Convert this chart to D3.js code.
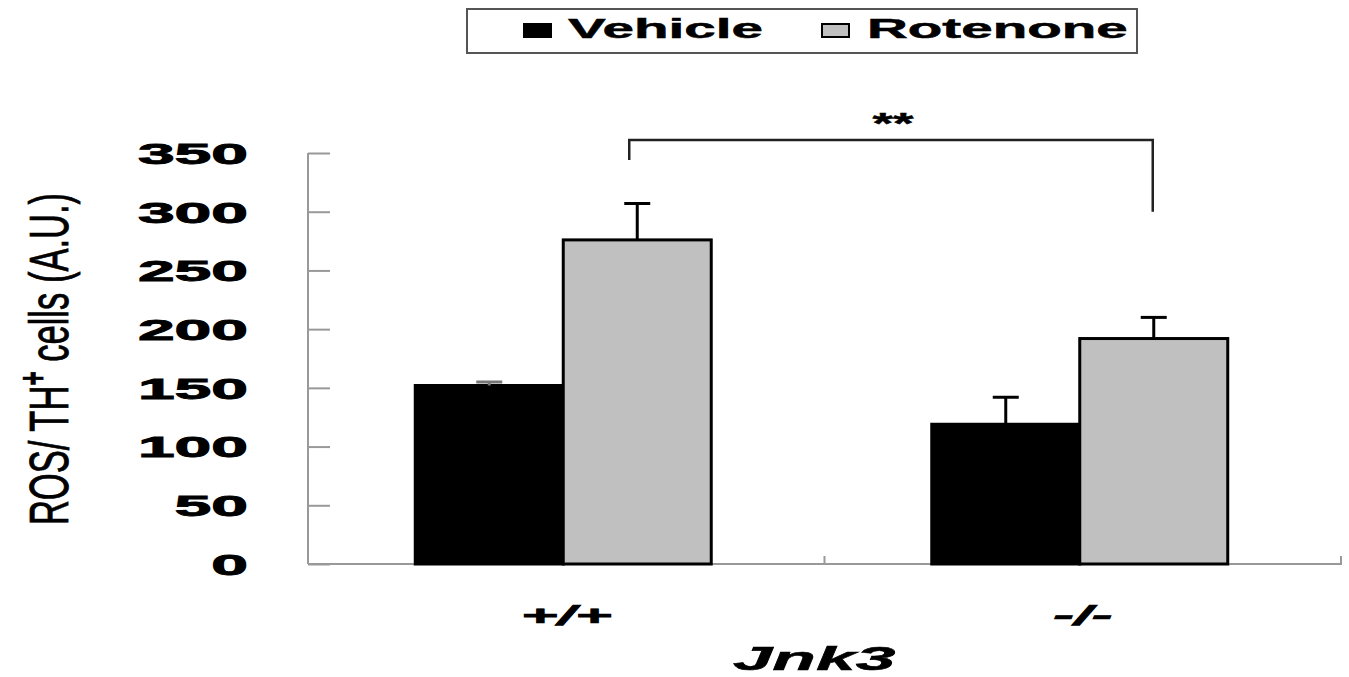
<!DOCTYPE html>
<html>
<head>
<meta charset="utf-8">
<script src="https://cdn.jsdelivr.net/npm/d3@7"></script>
<style>
  html, body { margin: 0; padding: 0; background: #fff; }
  svg { display: block; }
</style>
</head>
<body>
<svg id="chart" width="1349" height="677"></svg>
<script>
// Genotypes on the x axis and treatment series
const genotypes = ["+/+", "-/-"];
const series = ["Vehicle", "Rotenone"];
// Mean ROS / TH+ cells (A.U.) per genotype, one array per series
const vehicleMeans = [152, 119];
const rotenoneMeans = [276, 192];
// Upper error bars (SEM)
const vehicleErrors = [3, 23];
const rotenoneErrors = [31, 18];
// Y axis ticks
const yTicks = [0, 50, 100, 150, 200, 250, 300, 350];
// Significance bracket between Rotenone +/+ and Rotenone -/- (value units)
const bracketLevels = { top: 361, leftEnd: 344, rightEnd: 300, label: 384 };
const bracketText = "**";

const colors = { Vehicle: "#000000", Rotenone: "#c0c0c0" };
const font = "'Liberation Sans', Arial, sans-serif";

const svg = d3.select("#chart");

const x0 = d3.scaleBand().domain(genotypes).range([305, 1338]).paddingInner(0).paddingOuter(0);
const x1 = d3.scaleBand().domain(series).range([0, x0.bandwidth()]).paddingInner(0).paddingOuter(0.745);
const y = d3.scaleLinear().domain([0, 350]).range([564, 153]);

const rows = genotypes.map((g, i) => ({
  genotype: g,
  values: [
    { key: "Vehicle", mean: vehicleMeans[i], err: vehicleErrors[i] },
    { key: "Rotenone", mean: rotenoneMeans[i], err: rotenoneErrors[i] }
  ]
}));

// Axes (ticks drawn inward, grey lines)
const axisColor = "#999";
const axisLeft = 308, axisRight = 1341;
const yAxis = svg.append("g").attr("transform", `translate(${axisLeft},0)`)
  .call(d3.axisRight(y).tickValues(yTicks).tickSize(22).tickFormat(""));
yAxis.select(".domain").attr("stroke", axisColor).attr("stroke-width", 2).attr("d", `M0,${y(350)}V${y(0)}`);
yAxis.selectAll(".tick line").attr("stroke", axisColor).attr("stroke-width", 2);

const xAxis = svg.append("g").attr("transform", `translate(0,${y(0)})`)
  .call(d3.axisTop(x0).tickValues([]).tickSize(0));
xAxis.select(".domain").attr("stroke", axisColor).attr("stroke-width", 2).attr("d", `M${axisLeft},0H${axisRight}`);
// category separator and end tick
const sepXs = [(axisLeft + axisRight) / 2, axisRight];
svg.append("g").selectAll("line").data(sepXs).join("line")
  .attr("x1", d => d).attr("x2", d => d)
  .attr("y1", y(0) - 8).attr("y2", y(0) + 1)
  .attr("stroke", axisColor).attr("stroke-width", 2);

// Y tick labels (heavy, horizontally widened)
svg.append("g").selectAll("text").data(yTicks).join("text")
  .attr("transform", d => `translate(248,${y(d)}) scale(2.2,1)`)
  .attr("dy", "0.36em")
  .attr("text-anchor", "end")
  .attr("font-family", font).attr("font-weight", "bold").attr("font-size", 30)
  .attr("stroke", "#000").attr("stroke-width", 0.9)
  .text(d => d);

// Y axis title
const yTitle = svg.append("text")
  .attr("transform", `translate(68,359) rotate(-90) scale(1.28,2.05)`)
  .attr("text-anchor", "middle")
  .attr("font-family", font).attr("font-size", 27)
  .attr("stroke", "#000").attr("stroke-width", 0.4)
  .attr("fill", "#000");
yTitle.append("tspan").text("ROS/ TH");
yTitle.append("tspan").attr("baseline-shift", "super").attr("font-size", 19).attr("font-weight", "bold").text("+");
yTitle.append("tspan").text(" cells (A.U.)");

// Bars
const groups = svg.append("g").selectAll("g").data(rows).join("g")
  .attr("transform", d => `translate(${x0(d.genotype)},0)`);

groups.selectAll("rect").data(d => d.values).join("rect")
  .attr("x", d => x1(d.key))
  .attr("y", d => y(d.mean))
  .attr("width", x1.bandwidth())
  .attr("height", d => y(0) - y(d.mean))
  .attr("fill", d => colors[d.key])
  .attr("stroke", "#000").attr("stroke-width", 3);

// Upper error bars
const errColor = d => d.key === "Vehicle" && d.err < 5 ? "#777" : "#000";
const eb = groups.selectAll("g.err").data(d => d.values).join("g").attr("class", "err");
eb.append("line")
  .attr("x1", d => x1(d.key) + x1.bandwidth() / 2)
  .attr("x2", d => x1(d.key) + x1.bandwidth() / 2)
  .attr("y1", d => y(d.mean))
  .attr("y2", d => y(d.mean + d.err))
  .attr("stroke", errColor).attr("stroke-width", 3);
eb.append("line")
  .attr("x1", d => x1(d.key) + x1.bandwidth() / 2 - 13)
  .attr("x2", d => x1(d.key) + x1.bandwidth() / 2 + 13)
  .attr("y1", d => y(d.mean + d.err))
  .attr("y2", d => y(d.mean + d.err))
  .attr("stroke", errColor).attr("stroke-width", 3);

// Significance bracket
const bxL = x0("+/+") + x1("Rotenone") + x1.bandwidth() / 2 - 8;
const bxR = x0("-/-") + x1("Rotenone") + x1.bandwidth() / 2 - 1;
svg.append("path")
  .attr("d", `M${bxL},${y(bracketLevels.leftEnd)}V${y(bracketLevels.top)}H${bxR}V${y(bracketLevels.rightEnd)}`)
  .attr("fill", "none").attr("stroke", "#222").attr("stroke-width", 2.5);
svg.append("text")
  .attr("transform", `translate(${(bxL + bxR) / 2 + 2},${y(bracketLevels.label)}) scale(1.75,1)`)
  .attr("text-anchor", "middle").attr("dy", "0.66em")
  .attr("font-family", font).attr("font-weight", "bold").attr("font-size", 30)
  .attr("stroke", "#000").attr("stroke-width", 0.5)
  .text(bracketText);

// Category labels
svg.append("g").selectAll("text").data(genotypes).join("text")
  .attr("transform", d => `translate(${x0(d) + x0.bandwidth() / 2 + 3},625) scale(2.25,1)`)
  .attr("text-anchor", "middle")
  .attr("font-family", font).attr("font-weight", "bold").attr("font-style", "italic").attr("font-size", 28)
  .attr("stroke", "#000").attr("stroke-width", 0.7)
  .text(d => d);

// X axis title
svg.append("text")
  .attr("transform", `translate(814,670) scale(2.1,1)`)
  .attr("text-anchor", "middle")
  .attr("font-family", font).attr("font-weight", "bold").attr("font-style", "italic").attr("font-size", 34)
  .attr("stroke", "#000").attr("stroke-width", 0.5)
  .text("Jnk3");

// Legend
const legend = svg.append("g");
legend.append("rect")
  .attr("x", 467).attr("y", 9).attr("width", 670).attr("height", 44)
  .attr("fill", "#fff").attr("stroke", "#555").attr("stroke-width", 2);
const legendItems = [
  { key: series[0], sx: 524, tx: 568 },
  { key: series[1], sx: 822, tx: 867 }
];
legend.selectAll("rect.sw").data(legendItems).join("rect").attr("class", "sw")
  .attr("x", d => d.sx).attr("y", 24).attr("width", 27).attr("height", 13)
  .attr("fill", d => colors[d.key]).attr("stroke", "#000").attr("stroke-width", 2);
legend.selectAll("text").data(legendItems).join("text")
  .attr("transform", d => `translate(${d.tx},38) scale(2.02,1)`)
  .attr("font-family", font).attr("font-weight", "bold").attr("font-size", 28)
  .attr("stroke", "#000").attr("stroke-width", 0.5)
  .text(d => d.key);
</script>
</body>
</html>
